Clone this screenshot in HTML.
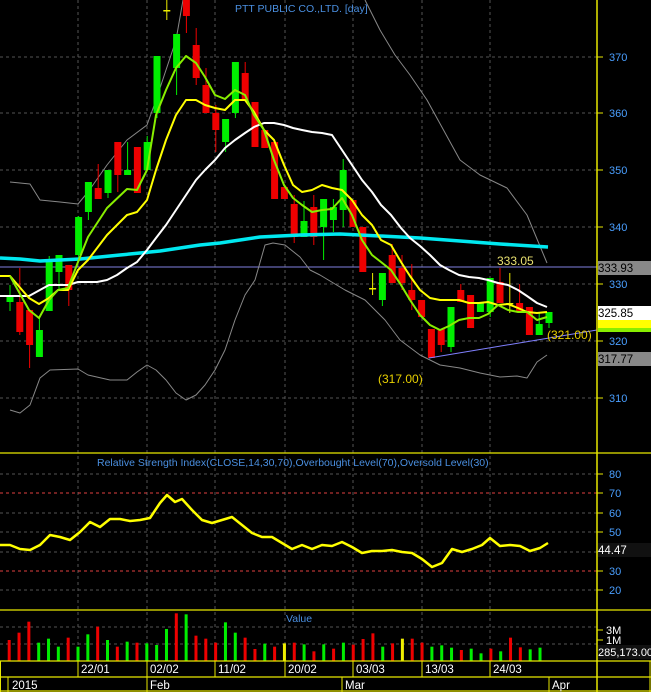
<!DOCTYPE html>
<html><head><meta charset="utf-8"><style>
html,body{margin:0;padding:0;background:#000;width:651px;height:692px;overflow:hidden}
svg{display:block;font-family:"Liberation Sans",sans-serif}
</style></head><body>
<svg id="s" width="651" height="692" xmlns="http://www.w3.org/2000/svg">
<rect width="651" height="692" fill="#000"/>
<g id="grid" stroke="#555" stroke-dasharray="3,3" stroke-width="1"></g>
<g id="main"></g>
<text x="235" y="12" fill="#4a8fe0" font-size="10.5">PTT PUBLIC CO.,LTD. [day]</text>
<text x="97" y="466" fill="#4a8fe0" font-size="10.5">Relative Strength Index(CLOSE,14,30,70),Overbought Level(70),Oversold Level(30)</text>
<text x="286" y="622" fill="#4a8fe0" font-size="10.5">Value</text>
<text x="497" y="265" fill="#e8e070" font-size="12">333.05</text>
<text x="378" y="383" fill="#e8d000" font-size="12">(317.00)</text>
<text x="547" y="339" fill="#e8d000" font-size="12">(321.00)</text>
</svg>
<script>
const S=document.getElementById('s'),M=document.getElementById('main'),G=document.getElementById('grid');
const ns='http://www.w3.org/2000/svg';
function el(t,a,p){const e=document.createElementNS(ns,t);for(const k in a)e.setAttribute(k,a[k]);(p||M).appendChild(e);return e;}
function txt(x,y,s,c,fs,p){const e=el('text',{x:x,y:y,fill:c,'font-size':fs||11},p);e.textContent=s;return e;}
function pl(pts,c,w,extra){const a=Object.assign({points:pts.map(p=>p.join(',')).join(' '),fill:'none',stroke:c,'stroke-width':w,'stroke-linejoin':'round'},extra||{});return el('polyline',a);}
// grid
[78,147,215,285,353,422,490].forEach(x=>{el('line',{x1:x,y1:0,x2:x,y2:661},G);});
[57,113,170,227,284,341,398].forEach(y=>el('line',{x1:0,y1:y,x2:597,y2:y},G));
[474,513,532,552,590,610-20].forEach(y=>el('line',{x1:0,y1:y,x2:597,y2:y},G));
[644,627].forEach(y=>el('line',{x1:0,y1:y,x2:597,y2:y},G));
// horizontal violet line
el('line',{x1:0,y1:267,x2:597,y2:267,stroke:'#8080e0','stroke-width':1});
// BB
pl([[10,182],[30,184],[40,200],[60,202],[78,204],[88,192],[107,165],[127,140],[147,125],[156,100],[166,70],[176,40],[183,0]],'#888',1);
pl([[365,0],[380,30],[395,55],[410,75],[427,100],[460,160],[480,175],[507,188],[527,215],[547,263]],'#888',1);
pl([[10,410],[20,413],[30,405],[40,378],[50,370],[78,369],[88,375],[110,380],[127,380],[137,372],[147,365],[156,370],[166,380],[176,393],[186,400],[196,395],[205,385],[215,370],[225,350],[235,320],[245,295],[255,280],[265,245],[273,243],[285,245],[300,257],[310,270],[320,275],[345,290],[365,300],[385,320],[400,340],[420,355],[440,365],[460,368],[480,373],[500,377],[517,376],[527,378],[537,362],[547,355]],'#888',1);
// candles
const C=[['g',296,302,285,311],['r',302,332,268,335],['r',310,345,310,368],['g',330,357,318,357],['g',262,311,256,311],['g',255,272,255,290],['r',265,290,265,306],['g',217,255,216,260],['g',182,212,182,220],['r',188,199,164,199],['g',170,193,170,198],['r',142,175,142,192],['g',170,175,142,175],['r',147,193,147,193],['g',142,170,136,170],['g',56,113,56,118],['y',10,11,0,20],['g',34,68,34,95],['r',0,16,0,33],['r',45,78,28,85],['r',85,113,68,113],['r',113,130,105,152],['g',119,142,119,152],['g',62,113,62,118],['r',73,100,62,100],['r',102,147,102,147],['r',130,148,130,148],['r',142,199,142,199],['r',187,199,187,199],['r',204,237,195,243],['g',221,237,201,237],['r',207,237,195,245],['g',199,227,199,260],['g',207,220,199,232],['g',170,210,159,227],['r',200,227,200,227],['r',227,272,227,272],['y',288,289,273,295],['g',273,300,273,306],['r',255,283,244,283],['r',268,283,255,290],['r',290,300,264,310],['r',300,317,300,317],['r',329,358,329,358],['r',329,345,329,352],['g',307,347,307,352],['r',290,302,284,302],['r',295,328,295,328],['g',302,312,302,312],['g',278,312,278,317],['r',282,303,268,303],['y',303,304,273,313],['r',303,312,284,312],['r',307,335,307,335],['g',324,335,312,335],['g',312,323,312,328]];
const col={g:'#00ee00',r:'#ee0000',y:'#eeee00'};
C.forEach((c,i)=>{const x=10+9.8*i;el('line',{x1:x,y1:c[3],x2:x,y2:c[4],stroke:col[c[0]],'stroke-width':1});el('rect',{x:x-3.5,y:c[1],width:7,height:Math.max(1.5,c[2]-c[1]),fill:col[c[0]]});});
// cyan
pl([[0,258],[20,259],[40,261],[60,260],[80,259],[100,257],[120,255],[140,253],[160,251],[180,248],[200,245],[220,243],[240,240],[260,237],[280,236],[300,235],[340,234],[380,236],[420,238],[460,241],[500,244],[548,247]],'#00e8f0',3.5);
pl([[0,296],[29,296],[49,285],[68,285],[78,282],[97,282],[107,280],[117,275],[127,268],[137,262],[147,250],[156,238],[166,225],[176,210],[186,195],[196,180],[205,170],[215,160],[225,148],[235,140],[245,133],[254,127],[264,123],[274,123],[284,125],[293,128],[302,130],[312,132],[322,133],[332,135],[342,150],[352,165],[362,180],[372,192],[381,205],[391,215],[401,228],[410,238],[420,246],[430,255],[440,265],[449,270],[459,275],[469,277],[479,278],[488,280],[498,283],[508,285],[518,290],[527,296],[537,303],[547,307]],'#fff',2);
pl([[0,276],[10,276],[29,298],[39,304],[49,298],[58,290],[68,290],[78,270],[88,260],[107,235],[127,215],[137,212],[147,200],[156,170],[166,140],[176,115],[186,100],[196,100],[205,105],[215,108],[225,110],[235,100],[245,100],[254,112],[264,130],[274,140],[284,165],[293,185],[302,192],[312,190],[322,185],[332,188],[342,190],[352,200],[362,215],[372,225],[381,240],[391,245],[401,262],[410,276],[420,290],[430,298],[440,300],[449,300],[459,300],[469,303],[479,303],[488,302],[498,305],[508,304],[518,308],[527,312],[537,313],[547,312]],'#ffff00',2);
pl([[10,276],[29,310],[39,318],[49,300],[58,290],[68,288],[78,262],[88,237],[107,208],[127,189],[137,190],[147,170],[156,115],[166,90],[176,68],[186,56],[196,63],[205,77],[215,95],[225,99],[235,90],[245,95],[254,115],[264,130],[274,160],[284,185],[293,198],[302,205],[312,212],[322,210],[332,209],[342,198],[352,215],[362,240],[372,255],[381,262],[391,270],[401,285],[410,300],[420,315],[430,325],[440,330],[449,326],[459,320],[469,318],[479,318],[488,314],[498,305],[508,310],[518,312],[527,312],[537,320],[547,317]],'#88ee00',2);
el('line',{x1:429,y1:358,x2:597,y2:330,stroke:'#8080ff','stroke-width':1});
// RSI
el('line',{x1:0,y1:493,x2:597,y2:493,stroke:'#e04040','stroke-dasharray':'3,3'});
el('line',{x1:0,y1:571,x2:597,y2:571,stroke:'#e04040','stroke-dasharray':'3,3'});
pl([[0,545],[10,545],[20,549],[30,550],[40,545],[50,535],[60,537],[70,540],[80,532],[90,522],[100,527],[110,519],[120,519],[130,521],[140,520],[150,518],[160,503],[167,495],[175,502],[182,499],[192,510],[202,520],[212,523],[222,520],[232,517],[242,525],[252,533],[262,537],[272,537],[282,543],[292,549],[302,545],[312,549],[322,545],[332,546],[342,542],[352,547],[362,553],[372,551],[382,551],[392,550],[402,552],[412,553],[422,559],[432,567],[442,563],[452,549],[462,552],[472,549],[482,545],[490,538],[500,546],[510,545],[520,546],[530,551],[540,548],[548,543]],'#ffff00',2.5);
// volume
const VT=[150,128,95,158,146,170,143,170,133,110,150,170,155,158,160,165,117,70,73,137,146,158,97,128,143,177,161,170,160,158,163,184,163,176,158,164,147,130,170,160,146,146,158,170,166,173,180,176,190,176,184,143,172,178,173,202];
const VC='rrrgggrggrgrgrgggrgrrrggrrgryrgrgrgrrrgryrrgggrggrgrrgg';
VT.forEach((t,i)=>{const x=9.2+9.83*i;const y=590+t/3;el('rect',{x:x-1.5,y:y,width:3,height:661-y,fill:col[VC[i]]});});
// axes and separators
const Y='#e8e800';
el('line',{x1:597,y1:0,x2:597,y2:692,stroke:Y,'stroke-width':1.5});
[453,610,661,677,691].forEach(y=>el('line',{x1:0,y1:y,x2:651,y2:y,stroke:Y,'stroke-width':1.2}));
el('line',{x1:0.5,y1:661,x2:0.5,y2:692,stroke:Y});el('line',{x1:650,y1:661,x2:650,y2:692,stroke:Y});
[78,147,215,285,353,422,490].forEach(x=>el('line',{x1:x,y1:661,x2:x,y2:677,stroke:Y}));
[8,147,342,549].forEach(x=>el('line',{x1:x,y1:677,x2:x,y2:692,stroke:Y}));
[['22/01',81],['02/02',150],['11/02',218],['20/02',288],['03/03',356],['13/03',425],['24/03',493]].forEach(d=>txt(d[1],673,d[0],'#fff',11.5));
[['2015',12],['Feb',150],['Mar',345],['Apr',552]].forEach(d=>txt(d[1],689,d[0],'#fff',11.5));
// price axis
[[370,57],[360,113],[350,170],[340,227],[330,284],[320,341],[310,398]].forEach(p=>{el('line',{x1:597,y1:p[1],x2:603,y2:p[1],stroke:Y});txt(609,p[1]+4,p[0],'#4a9fff',11);});
el('rect',{x:598,y:261,width:53,height:14,fill:'#888'});txt(598,272,'333.93','#000',11.5);
el('rect',{x:598,y:320,width:53,height:8,fill:'#ffff00'});el('rect',{x:598,y:328,width:53,height:4,fill:'#88ee00'});
el('rect',{x:598,y:306,width:53,height:14,fill:'#fff'});txt(598,317,'325.85','#000',11.5);
el('rect',{x:598,y:352,width:53,height:14,fill:'#888'});txt(598,363,'317.77','#000',11.5);
// rsi axis
[[80,474],[70,493],[60,513],[50,532],[40,552],[30,571],[20,590]].forEach(p=>{el('line',{x1:597,y1:p[1],x2:603,y2:p[1],stroke:Y});txt(609,p[1]+4,p[0],'#4a9fff',11);});
el('rect',{x:598,y:543,width:53,height:14,fill:'#111'});txt(598,554,'44.47','#fff',11.5);
[['3M',634],['1M',644]].forEach(p=>{el('line',{x1:597,y1:p[1]-4,x2:603,y2:p[1]-4,stroke:Y});txt(606,p[1],p[0],'#fff',11);});
el('rect',{x:598,y:645,width:53,height:14,fill:'#111'});txt(598,656,'285,173.00','#fff',11);
</script>
</body></html>
